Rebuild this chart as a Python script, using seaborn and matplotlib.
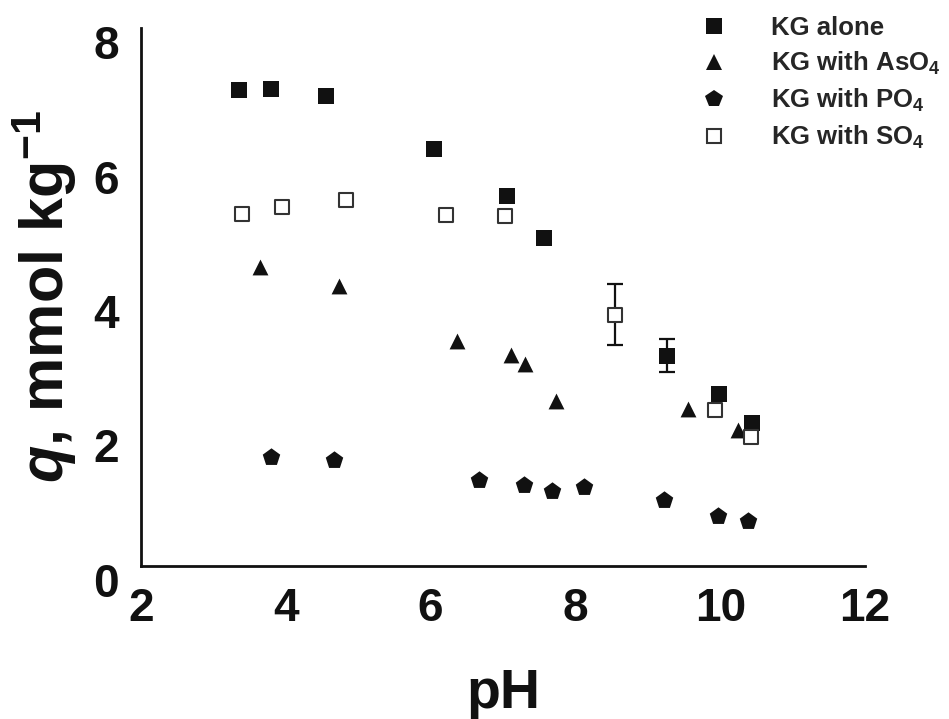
import numpy as np
import pandas as pd
import matplotlib
matplotlib.use("Agg")
import matplotlib.pyplot as plt
import matplotlib.transforms as mtransforms
from matplotlib.lines import Line2D
import seaborn as sns

# --- data ---
alone_ph = [3.36, 3.79, 4.55, 6.04, 7.05, 7.56, 9.26, 9.98, 10.44]
alone_q = [7.08, 7.10, 6.99, 6.20, 5.50, 4.88, 3.13, 2.56, 2.13]

aso4_ph = [3.64, 4.73, 6.36, 7.11, 7.31, 7.73, 9.55, 10.25]
aso4_q = [4.45, 4.16, 3.34, 3.14, 3.01, 2.45, 2.33, 2.02]

po4_ph = [3.79, 4.66, 6.67, 7.29, 7.68, 8.12, 9.23, 9.97, 10.38]
po4_q = [1.62, 1.57, 1.28, 1.20, 1.12, 1.17, 0.98, 0.75, 0.67]

so4_ph = [3.40, 3.95, 4.83, 6.21, 7.03, 8.55, 9.93, 10.42]
so4_q = [5.23, 5.34, 5.44, 5.22, 5.21, 3.74, 2.32, 1.92]

# points carrying error bars
err_ph = [9.26, 8.55]
err_q = [3.13, 3.74]
err_size = [0.25, 0.45]

labels = ["KG alone", "KG with AsO$_4$", "KG with PO$_4$", "KG with SO$_4$"]

# --- style ---
sns.set_style("white")
plt.rcParams["font.family"] = ["Liberation Sans", "DejaVu Sans"]
plt.rcParams["font.weight"] = "bold"
plt.rcParams["mathtext.fontset"] = "custom"
plt.rcParams["mathtext.rm"] = "Liberation Sans:bold"
plt.rcParams["mathtext.it"] = "Liberation Sans:italic:bold"
plt.rcParams["mathtext.bf"] = "Liberation Sans:bold"

ink = "#111111"

fig = plt.figure(figsize=(9.49, 7.19), dpi=100)
ax = fig.add_axes([0.1486, 0.2128, 0.7629, 0.748])

ms = 130  # scatter marker area (pt^2)

# error bars drawn first so markers sit on top
ax.errorbar(err_ph, err_q, yerr=err_size, fmt="none", ecolor=ink,
            elinewidth=1.6, capsize=5.5, capthick=1.6, zorder=1)

sns.scatterplot(x=alone_ph, y=alone_q, marker="s", s=ms, color=ink,
                edgecolor=ink, linewidth=0, ax=ax, zorder=2)
sns.scatterplot(x=aso4_ph, y=aso4_q, marker="^", s=ms, color=ink,
                edgecolor=ink, linewidth=0, ax=ax, zorder=2)
sns.scatterplot(x=po4_ph, y=po4_q, marker="p", s=175, color=ink,
                edgecolor=ink, linewidth=0, ax=ax, zorder=2)
sns.scatterplot(x=so4_ph, y=so4_q, marker="s", s=115, color="white",
                edgecolor="#333333", linewidth=1.5, ax=ax, zorder=3)

# --- axes ---
ax.set_xlim(2, 12)
ax.set_ylim(0, 8)
ax.set_xticks([2, 4, 6, 8, 10, 12])
ax.set_xticks([3, 5, 7, 9, 11], minor=True)
ax.set_yticks([0, 2, 4, 6, 8])
ax.set_yticks([1, 3, 5, 7], minor=True)

for side in ["top", "right"]:
    ax.spines[side].set_visible(False)
for side in ["left", "bottom"]:
    ax.spines[side].set_linewidth(2.0)
    ax.spines[side].set_color(ink)

ax.tick_params(axis="x", which="major", direction="out", length=12, width=2,
               labelsize=33, pad=3, colors=ink)
ax.tick_params(axis="x", which="minor", direction="out", length=6, width=2, colors=ink)
ax.tick_params(axis="y", which="major", direction="in", length=9, width=1.5,
               labelsize=33, pad=16, colors=ink)
ax.tick_params(axis="y", which="minor", direction="in", length=7, width=1.5, colors=ink)

for lab in ax.get_xticklabels() + ax.get_yticklabels():
    lab.set_fontweight("bold")

# the y tick numbers sit a little below their ticks in the original
shift = mtransforms.ScaledTranslation(0, -10 / 72, fig.dpi_scale_trans)
for lab in ax.get_yticklabels():
    lab.set_transform(lab.get_transform() + shift)

ax.set_xlabel("pH", fontsize=40, fontweight="bold", color=ink)
ax.xaxis.set_label_coords(0.5, -0.19)
ax.set_ylabel("$q$, mmol kg$^{-1}$", fontsize=44, fontweight="bold", color=ink)
ax.yaxis.set_label_coords(-0.086, 0.50)

# --- legend ---
handles = [
    Line2D([], [], ls="none", marker="s", ms=11, color=ink, mec=ink, mew=0),
    Line2D([], [], ls="none", marker="^", ms=11, color=ink, mec=ink, mew=0),
    Line2D([], [], ls="none", marker="p", ms=13, color=ink, mec=ink, mew=0),
    Line2D([], [], ls="none", marker="s", ms=10.5, mfc="white", mec="#333333", mew=1.5),
]
fig.legend(handles, labels, loc="upper left", bbox_to_anchor=(0.727, 0.978),
           frameon=False, handlelength=1.9, handletextpad=1.25,
           labelspacing=0.38, borderpad=0, borderaxespad=0,
           prop={"weight": "bold", "size": 18.5})

fig.savefig("out.png", dpi=100)
